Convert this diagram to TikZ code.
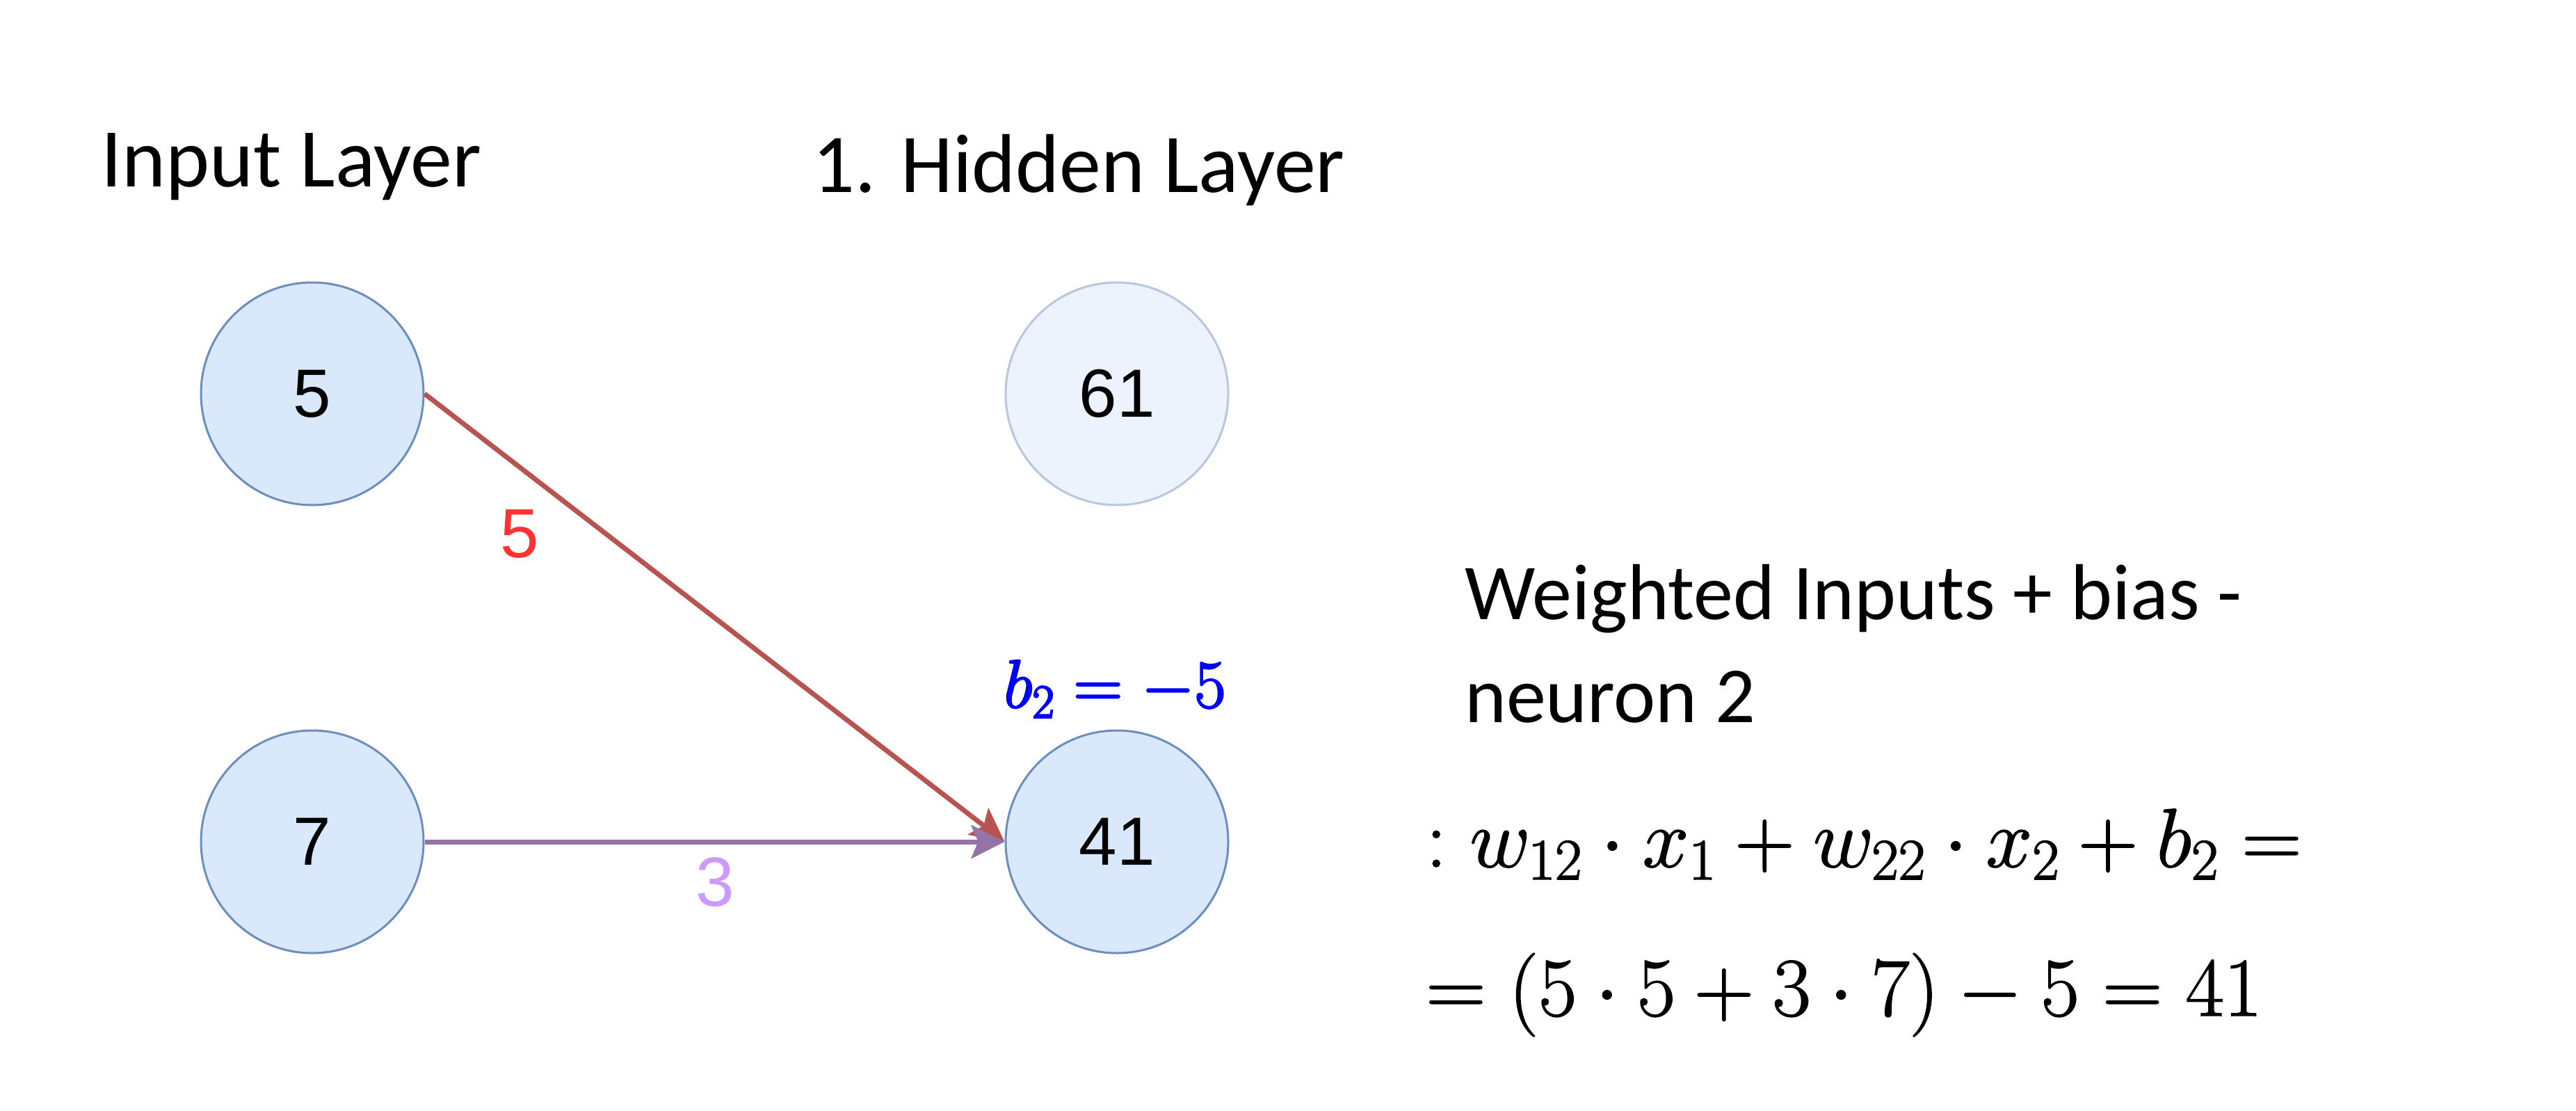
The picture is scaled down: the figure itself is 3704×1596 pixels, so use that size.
\RequirePackage{fix-cm}
\documentclass[tikz,border=0pt]{standalone}
\usepackage{amsmath}
\usepackage{fontspec}
\newfontfamily\calibri{Carlito}
\newfontfamily\arial{Liberation Sans}
\usetikzlibrary{arrows.meta}
\definecolor{nfill}{HTML}{DAE8FC}
\definecolor{nstroke}{HTML}{6C8EBF}
\definecolor{ffill}{HTML}{EDF3FD}
\definecolor{fstroke}{HTML}{B6C7DF}
\definecolor{redarrow}{HTML}{B85450}
\definecolor{purparrow}{HTML}{9673A6}
\definecolor{redlabel}{HTML}{FF3333}
\definecolor{purplabel}{HTML}{CC99FF}
\definecolor{biasblue}{HTML}{0000FF}
\newcommand{\heavytext}[2]{\special{pdf:literal direct 2 Tr #1 w}#2\special{pdf:literal direct 0 Tr}}
\begin{document}
\begin{tikzpicture}[x=1pt,y=-1pt,
  neuron/.style={circle,draw=nstroke,fill=nfill,line width=3pt,minimum size=320pt,inner sep=0pt,
    font=\arial\fontsize{98}{110}\selectfont},
  faintneuron/.style={neuron,draw=fstroke,fill=ffill},
  title/.style={anchor=base west,inner sep=0pt,font=\calibri\fontsize{120}{140}\selectfont},
  desc/.style={anchor=base west,inner sep=0pt,font=\calibri\fontsize{114}{140}\selectfont},
  wlabel/.style={inner sep=0pt,font=\arial\fontsize{100}{110}\selectfont},
  eq/.style={anchor=base west,inner sep=0pt,font=\fontsize{120}{140}\selectfont},
  conn/.style={line width=7pt,-{Stealth[length=48pt,width=48pt,inset=10pt]}}
]
\useasboundingbox (0,0) rectangle (3704,1596);
\fill[white] (0,0) rectangle (3704,1596);

\node[title] (tin) at (145,268) {Input Layer};
\node[title] (thid) at (1168,276) {1. Hidden Layer};

\node[neuron] (x1) at (449,566) {5};
\node[neuron] (x2) at (449,1210) {7};
\node[faintneuron] (h1) at (1606,566) {61};
\node[neuron] (h2) at (1606,1210) {41};

\draw[conn,draw=redarrow,fill=redarrow] (x1.east) -- (h2.west);
\draw[conn,draw=purparrow,fill=purparrow] (x2.east) -- (h2.west);

\node[wlabel,text=redlabel] (w1) at (747,768) {5};
\node[wlabel,text=purplabel] (w2) at (1028,1268) {3};

\node[anchor=base,inner sep=0pt,text=biasblue,font=\fontsize{98}{110}\selectfont] (bias) at (1603,1017) {\heavytext{2.5}{$b_2=-5$}};

\node[desc] (desc1) at (2106,890) {Weighted Inputs + bias -};
\node[desc] (desc2) at (2106,1038) {neuron 2};
\node[eq] (eq1) at (2050,1246) {\heavytext{1.5}{$:w_{12}\cdot x_1+w_{22}\cdot x_2+b_2=$}};
\node[eq] (eq2) at (2050,1460) {\heavytext{1.5}{$=(5\cdot 5+3\cdot 7)-5=41$}};
\end{tikzpicture}
\end{document}
